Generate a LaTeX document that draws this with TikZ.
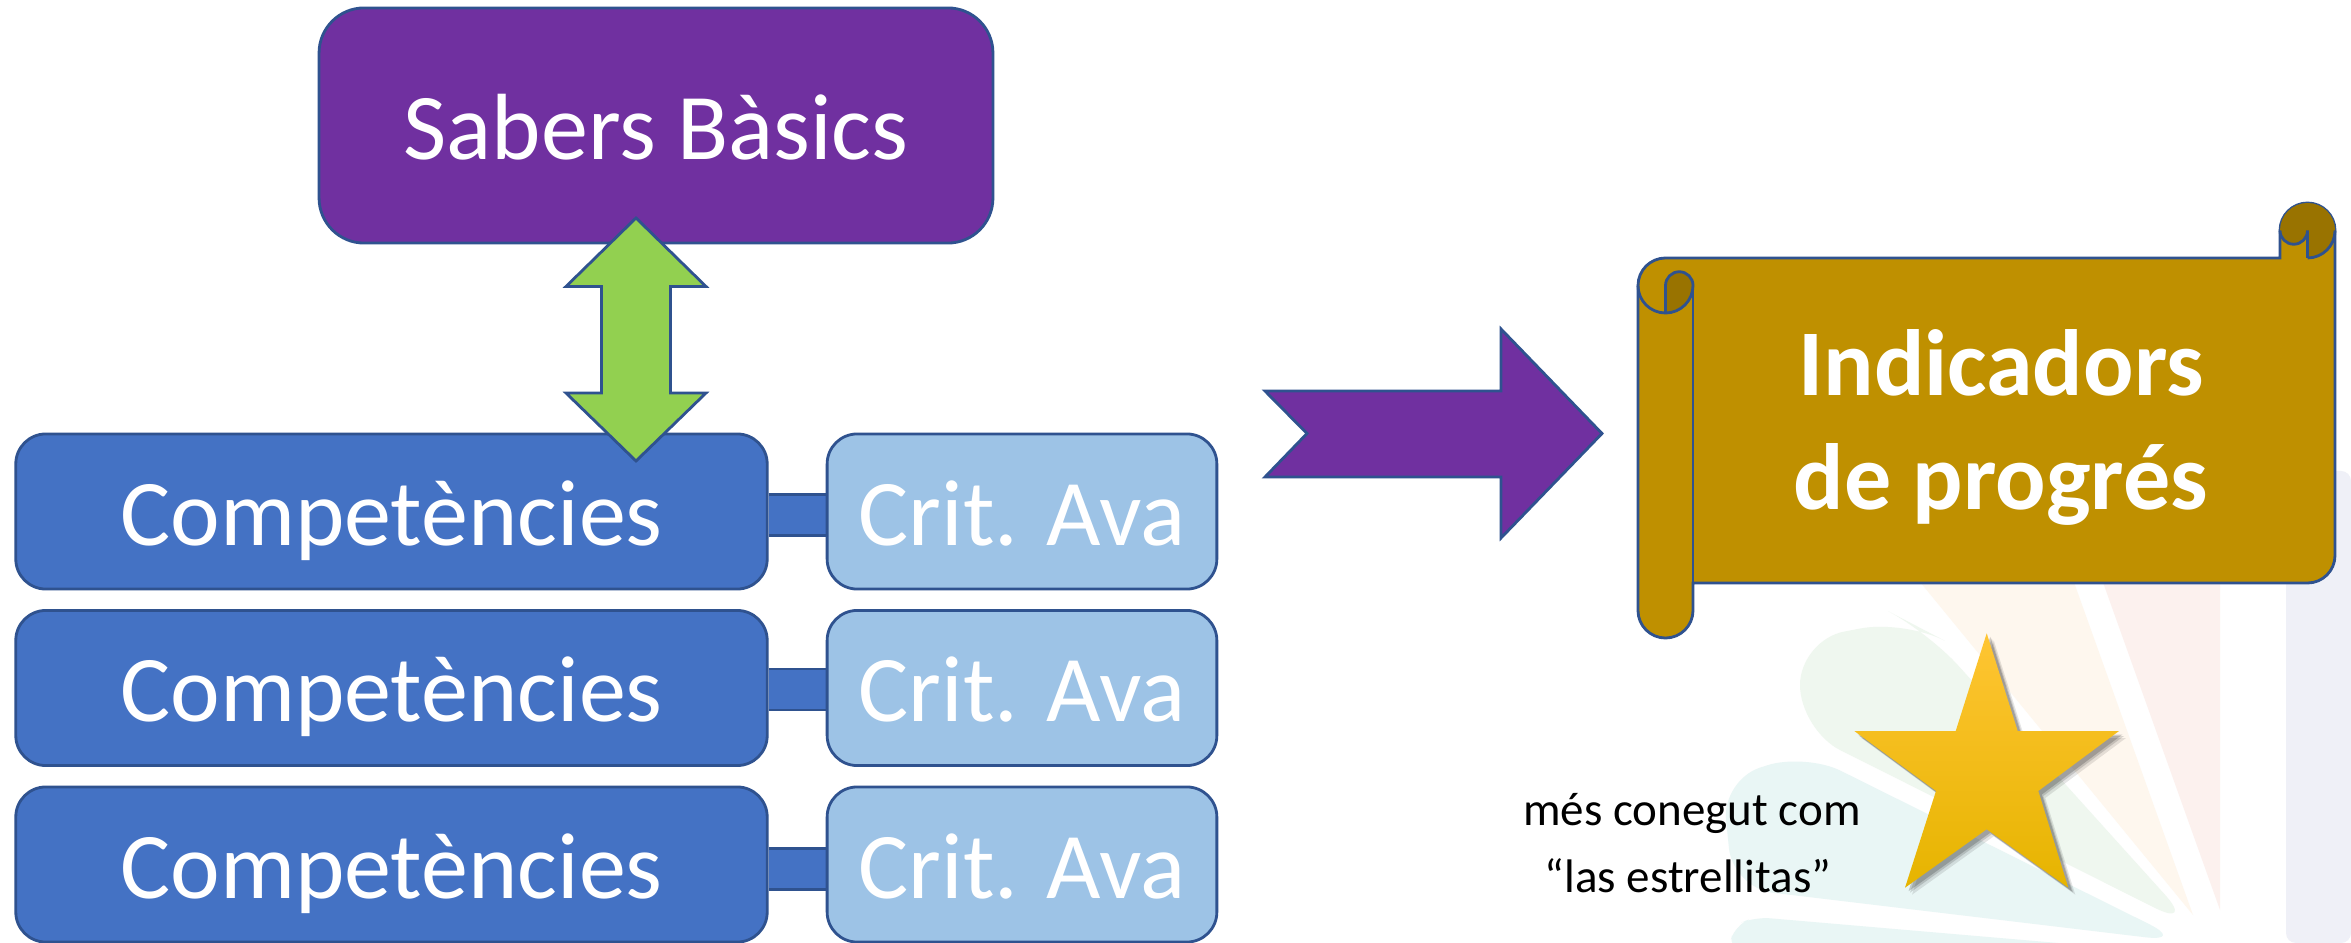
\documentclass[tikz,border=0pt]{standalone}
\usepackage{fontspec}
\setmainfont{Carlito}
\usetikzlibrary{calc}
\definecolor{purp}{HTML}{7030A0}
\definecolor{edge}{HTML}{2F528F}
\definecolor{compblue}{HTML}{4472C4}
\definecolor{critblue}{HTML}{9DC3E6}
\definecolor{arrgreen}{HTML}{92D050}
\definecolor{gold}{HTML}{BF9000}
\definecolor{golddark}{HTML}{997300}
\definecolor{wmteal}{HTML}{E9F6F5}
\definecolor{wmgreen}{HTML}{EFF7EF}
\definecolor{wmpeach}{HTML}{FEF7EE}
\definecolor{wmpink}{HTML}{FCF1EE}
\definecolor{wmlav}{HTML}{EFF0F7}
\definecolor{starA}{HTML}{FFC533}
\definecolor{starB}{HTML}{FFC400}
\definecolor{starC}{HTML}{E6B400}
\pgfdeclarelayer{bg}
\pgfsetlayers{bg,main}
\begin{document}
\begin{tikzpicture}[x=0.01cm,y=-0.01cm,
  outl/.style={draw=edge, line width=0.8pt, line join=miter},
  box/.style={outl, inner sep=0pt, text=white,
     font=\fontsize{26.75pt}{32pt}\selectfont, text height=0.67cm, text depth=0pt},
  sabbox/.style={box, fill=purp, minimum width=6.735cm, minimum height=2.35cm, rounded corners=0.45cm},
  compbox/.style={box, fill=compblue, minimum width=7.51cm, minimum height=1.55cm, rounded corners=0.3cm},
  critbox/.style={box, fill=critblue, minimum width=3.895cm, minimum height=1.55cm, rounded corners=0.3cm},
  bar/.style={draw=edge, line width=0.8pt, double=compblue, double distance=0.38cm},
  indtext/.style={anchor=base, inner sep=0pt, text=white, font=\fontsize{26.75pt}{32pt}\selectfont\bfseries},
  smalltext/.style={anchor=base, inner sep=0pt, text=black, font=\fontsize{13.37pt}{16pt}\selectfont},
]
\useasboundingbox (0,0) rectangle (2351,943);

% ---- background and faint watermark ----
\begin{pgfonlayer}{bg}
\fill[white] (0,0) rectangle (2351,943);
\fill[wmlav, rounded corners=0.1cm] (2286,471) -- (2351,471) -- (2351,943) -- (2286,943) -- cycle;
\fill[wmpink] (2095,560) -- (2220,560) -- (2220,910) -- cycle;
\fill[wmpeach] (1902,560) -- (2066,560) -- (2193,915) -- cycle;
\fill[wmgreen, rounded corners=0.45cm] (1800,730) -- (1800,640) -- (1905,620) -- (1928,632) -- (2195,928) -- cycle;
\fill[wmteal, rounded corners=0.4cm] (1733,888) -- (1722,780) -- (1805,753) -- (2185,942) -- cycle;
\fill[wmteal, rounded corners=0.15cm] (1728,950) -- (1735,925) -- (1755,917) -- (2140,950) -- cycle;
\end{pgfonlayer}

% ---- boxes ----
\node[sabbox] (sab) at (656,125.5) {Sabers Bàsics};
\node[compbox] (comp1) at (391.5,511.5) {Competències};
\node[compbox] (comp2) at (391.5,688) {Competències};
\node[compbox] (comp3) at (391.5,864.5) {Competències};
\node[critbox] (crit1) at (1022,511.5) {Crit. Ava};
\node[critbox] (crit2) at (1022,688) {Crit. Ava};
\node[critbox] (crit3) at (1022,864.5) {Crit. Ava};

\begin{pgfonlayer}{bg}
\draw[bar] ([yshift=-0.035cm]comp1.east) -- ([yshift=-0.035cm]crit1.west);
\draw[bar] ([yshift=-0.015cm]comp2.east) -- ([yshift=-0.015cm]crit2.west);
\draw[bar] ([yshift=-0.045cm]comp3.east) -- ([yshift=-0.045cm]crit3.west);
\end{pgfonlayer}

% ---- green double arrow ----
\path[outl, fill=arrgreen] (636,218) -- (706,286.5) -- (670.5,286.5) -- (670.5,393) -- (706,393)
  -- (636,461) -- (566,393) -- (601.5,393) -- (601.5,286.5) -- (566,286.5) -- cycle;

% ---- purple notched arrow ----
\path[outl, fill=purp] (1265,391) -- (1501,391) -- (1501,329) -- (1602,433.5) -- (1501,538)
  -- (1501,477) -- (1265,477) -- (1307,433.5) -- cycle;

% ---- scroll ----
\path[outl, fill=gold] (1638,285.5) arc[start angle=180,end angle=90,radius=0.275cm]
  -- (2280,258) -- (2280,230.5) arc[start angle=180,end angle=0,radius=0.275cm]
  -- (2335,555.5) arc[start angle=0,end angle=-90,radius=0.275cm]
  -- (1693,583) -- (1693,610.5) arc[start angle=0,end angle=-180,radius=0.275cm] -- cycle;
\fill[golddark] (1665.5,285.5) arc[start angle=180,end angle=0,radius=0.1375cm]
  arc[start angle=0,end angle=-90,radius=0.275cm] -- cycle;
\fill[golddark] (2280,230.5) arc[start angle=180,end angle=-90,radius=0.275cm]
  -- (2307.5,230.5) arc[start angle=0,end angle=-180,radius=0.1375cm] -- cycle;
\draw[outl] (1665.5,313) -- (1665.5,285.5) arc[start angle=180,end angle=0,radius=0.1375cm]
  arc[start angle=0,end angle=-180,radius=0.275cm];
\draw[outl] (1693,285.5) -- (1693,583);
\draw[outl] (2307.5,258) -- (2307.5,230.5) arc[start angle=0,end angle=-180,radius=0.1375cm];
\draw[outl] (2307.5,258) arc[start angle=-90,end angle=0,radius=0.275cm];

\node[indtext] (ind1) at (2001,396) {Indicadors};
\node[indtext] (ind2) at (2001,510) {de progrés};

% ---- star ----
\foreach \s/\o in {0.07/0.10, 0.05/0.14, 0.035/0.18}{
  \fill[black, opacity=\o, xshift=\s cm, yshift=-\s cm]
    (1986.7,633.3) -- (2017.7,731) -- (2119,731) -- (2038.3,791) -- (2068.3,887.7)
    -- (1986.7,829.3) -- (1905,887.7) -- (1936,791) -- (1854.3,731) -- (1955.7,731) -- cycle;
}
\shade[top color=starA, middle color=starB, bottom color=starC]
    (1986.7,633.3) -- (2017.7,731) -- (2119,731) -- (2038.3,791) -- (2068.3,887.7)
    -- (1986.7,829.3) -- (1905,887.7) -- (1936,791) -- (1854.3,731) -- (1955.7,731) -- cycle;

\node[smalltext] (note1) at (1692,825) {més conegut com};
\node[smalltext] (note2) at (1688,892) {“las estrellitas”};
\end{tikzpicture}
\end{document}
